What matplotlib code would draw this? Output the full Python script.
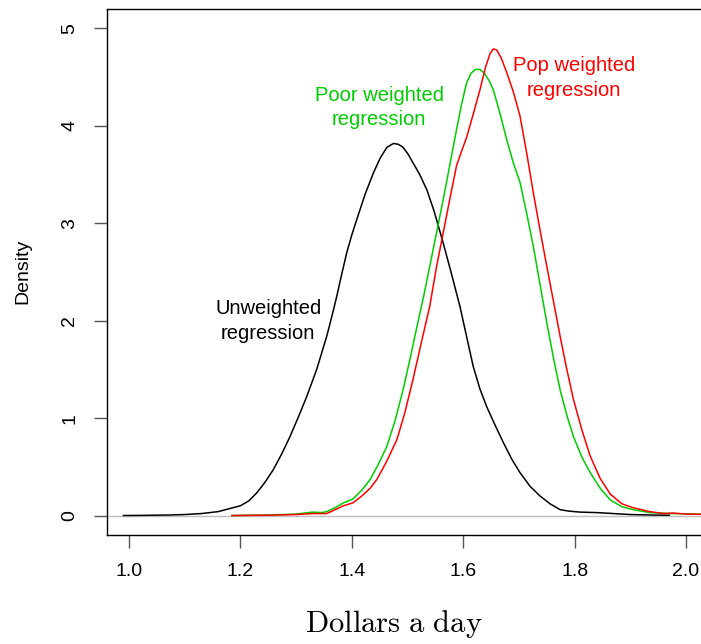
import matplotlib
matplotlib.use('Agg')
import matplotlib.pyplot as plt

# *** Density curves *** #
unw_x = [0.99, 1.03, 1.07, 1.10, 1.13, 1.16, 1.18, 1.20, 1.215, 1.229, 1.244, 1.259, 1.274,
         1.289, 1.304, 1.319, 1.337, 1.355, 1.364, 1.373, 1.382, 1.391, 1.400, 1.409, 1.424,
         1.439, 1.451, 1.463, 1.475, 1.484, 1.492, 1.501, 1.510, 1.522, 1.535, 1.548, 1.564,
         1.579, 1.594, 1.606, 1.618, 1.630, 1.642, 1.657, 1.672, 1.687, 1.702, 1.720, 1.738,
         1.756, 1.774, 1.79, 1.81, 1.84, 1.87, 1.90, 1.94, 1.97]
unw_y = [0.0, 0.002, 0.005, 0.01, 0.02, 0.04, 0.07, 0.10, 0.15, 0.23, 0.34, 0.47, 0.63,
         0.81, 1.01, 1.22, 1.50, 1.84, 2.04, 2.25, 2.48, 2.70, 2.88, 3.04, 3.30,
         3.52, 3.67, 3.78, 3.82, 3.81, 3.78, 3.71, 3.62, 3.50, 3.34, 3.12, 2.80,
         2.48, 2.15, 1.84, 1.53, 1.30, 1.12, 0.93, 0.75, 0.58, 0.44, 0.30, 0.20,
         0.12, 0.06, 0.045, 0.035, 0.03, 0.02, 0.01, 0.005, 0.003]

poor_x = [1.185, 1.25, 1.30, 1.33, 1.345, 1.355, 1.37, 1.385, 1.402, 1.418, 1.433, 1.448,
          1.463, 1.478, 1.492, 1.505, 1.517, 1.529, 1.540, 1.552, 1.564, 1.576, 1.588, 1.597,
          1.606, 1.614, 1.622, 1.630, 1.638, 1.646, 1.654, 1.666, 1.678, 1.690, 1.702, 1.714,
          1.726, 1.738, 1.750, 1.762, 1.774, 1.786, 1.798, 1.813, 1.828, 1.846, 1.864, 1.885,
          1.905, 1.935, 1.977, 2.05]
poor_y = [0.0, 0.005, 0.015, 0.035, 0.03, 0.04, 0.08, 0.13, 0.17, 0.26, 0.37, 0.53,
          0.71, 0.98, 1.29, 1.62, 1.94, 2.25, 2.56, 2.90, 3.24, 3.60, 3.96, 4.22,
          4.44, 4.54, 4.58, 4.58, 4.54, 4.47, 4.37, 4.13, 3.86, 3.62, 3.42, 3.10,
          2.76, 2.37, 1.98, 1.62, 1.29, 1.03, 0.81, 0.60, 0.44, 0.28, 0.16, 0.09,
          0.06, 0.03, 0.02, 0.01]

pop_x = [1.185, 1.25, 1.30, 1.33, 1.355, 1.37, 1.385, 1.402, 1.418, 1.433, 1.445, 1.463,
         1.481, 1.495, 1.510, 1.525, 1.540, 1.552, 1.564, 1.576, 1.588, 1.597, 1.606, 1.618,
         1.630, 1.640, 1.648, 1.654, 1.660, 1.668, 1.678, 1.690, 1.702, 1.714, 1.726, 1.738,
         1.750, 1.762, 1.774, 1.786, 1.798, 1.813, 1.828, 1.846, 1.864, 1.885, 1.905, 1.935,
         1.960, 1.977, 2.00, 2.05]
pop_y = [0.0, 0.003, 0.01, 0.02, 0.02, 0.06, 0.10, 0.13, 0.20, 0.28, 0.37, 0.56,
         0.78, 1.05, 1.40, 1.78, 2.15, 2.55, 2.90, 3.25, 3.59, 3.74, 3.88, 4.12,
         4.37, 4.60, 4.74, 4.79, 4.78, 4.70, 4.55, 4.35, 4.10, 3.72, 3.31, 2.93,
         2.56, 2.20, 1.84, 1.50, 1.19, 0.88, 0.61, 0.38, 0.22, 0.12, 0.08, 0.04,
         0.02, 0.025, 0.015, 0.01]

labels = ['Unweighted\nregression', 'Poor weighted\nregression', 'Pop weighted\nregression']
label_pos = [(1.25, 2.0), (1.449, 4.19), (1.799, 4.49)]
colors = ['black', '#00CD00', '#FF0000']

x_ticks = [1.0, 1.2, 1.4, 1.6, 1.8, 2.0]
y_ticks = [0, 1, 2, 3, 4, 5]

plt.rcParams['font.family'] = ['Liberation Sans', 'DejaVu Sans']
plt.rcParams['mathtext.fontset'] = 'cm'

fig = plt.figure(figsize=(7.01, 6.44), dpi=100)
ax = fig.add_axes([106.7/701, 109/644, (708.3-106.7)/701, 526/644])

# zero line like R's density plot
ax.axhline(0, color='#BEBEBE', lw=1.0, zorder=1)
ax.plot(unw_x, unw_y, color=colors[0], lw=1.1)
ax.plot(poor_x, poor_y, color=colors[1], lw=1.1)
ax.plot(pop_x, pop_y, color=colors[2], lw=1.1)

for txt, (tx, ty), col in zip(labels, label_pos, colors):
    ax.text(tx, ty, txt, color=col, fontsize=14.5, ha='center', va='center', linespacing=1.38)

ax.set_xlim(0.96, 2.04)
ax.set_ylim(-0.2, 5.2)
ax.set_xticks(x_ticks)
ax.set_xticklabels(['%.1f' % v for v in x_ticks])
ax.set_yticks(y_ticks)
ax.set_yticklabels([str(v) for v in y_ticks], rotation=90, va='center')

ax.tick_params(axis='both', direction='out', length=9.5, width=1.0, color='#555555', labelsize=14)
ax.tick_params(axis='x', pad=11)
ax.tick_params(axis='y', pad=11)
for s in ax.spines.values():
    s.set_linewidth(1.0)

fig.text(23/701, 1 - 271/644, 'Density', rotation=90, fontsize=14, ha='center', va='center')
fig.text(394/701, 1 - 624/644, r'$\mathrm{Dollars\ a\ day}$', fontsize=22, ha='center', va='center')

fig.savefig('out.png', dpi=100)
